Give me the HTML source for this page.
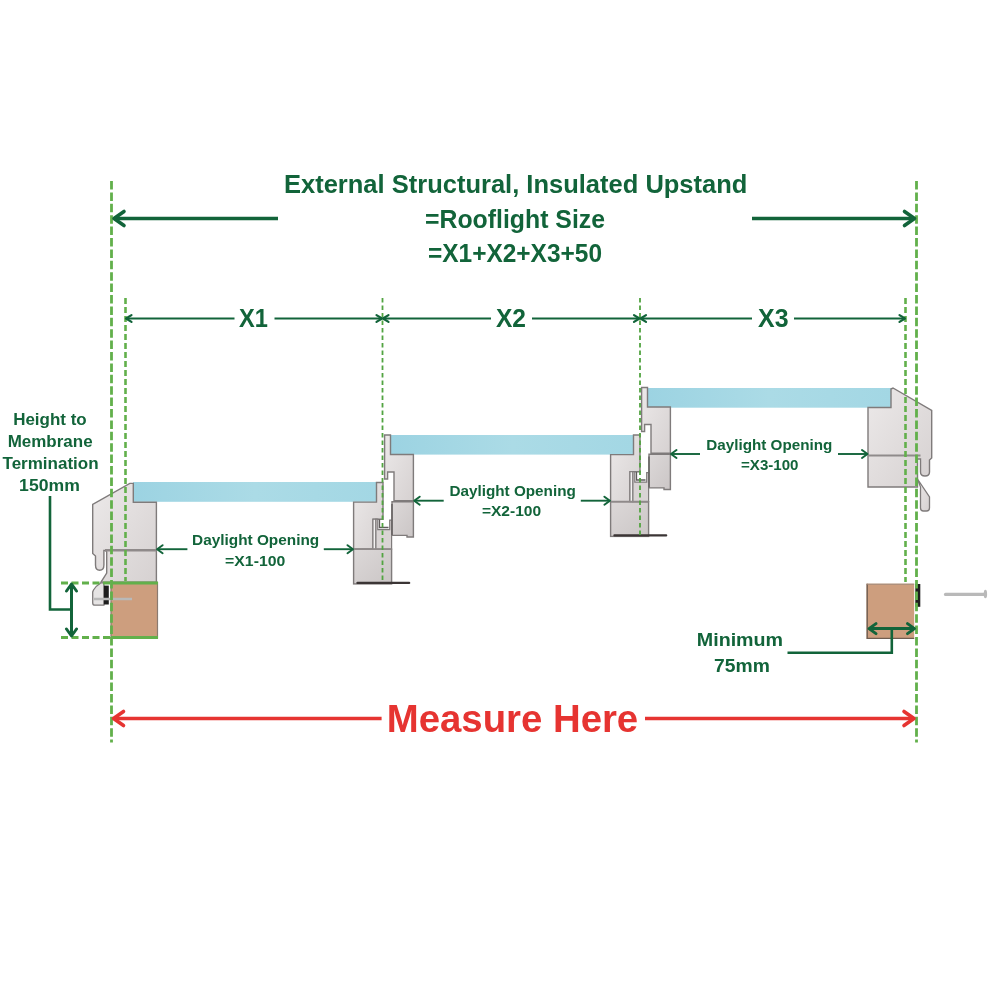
<!DOCTYPE html>
<html><head><meta charset="utf-8"><style>
html,body{margin:0;padding:0;background:#fff;width:1000px;height:1000px;overflow:hidden;}
svg{display:block;font-family:"Liberation Sans",sans-serif;will-change:transform;}
</style></head><body>
<svg width="1000" height="1000" viewBox="0 0 1000 1000" font-family="Liberation Sans, sans-serif" font-weight="bold">
<defs>
<linearGradient id="glass" x1="0" y1="0" x2="1" y2="0">
<stop offset="0" stop-color="#9cd3e2"/><stop offset="0.5" stop-color="#abdbe6"/><stop offset="1" stop-color="#a3d7e4"/>
</linearGradient>
<linearGradient id="frame" x1="0" y1="0" x2="1" y2="1">
<stop offset="0" stop-color="#ece9e9"/><stop offset="1" stop-color="#d6d1d1"/>
</linearGradient>
<linearGradient id="frame2" x1="0" y1="0" x2="1" y2="1">
<stop offset="0" stop-color="#dcd8d8"/><stop offset="1" stop-color="#cbc6c6"/>
</linearGradient>
</defs>
<rect x="133" y="482" width="243.8" height="19.8" fill="url(#glass)"/>
<rect x="390.5" y="435" width="243.8" height="19.6" fill="url(#glass)"/>
<rect x="647.7" y="388" width="243.5" height="19.7" fill="url(#glass)"/>
<path d="M129.8,483.4 L133.3,483.4 L133.3,502.3 L156.4,502.3 L156.4,582.1 L101,582.1 L106.7,573 L106.7,552 Q106.7,550.5 105,550.5 L103.9,550.5 L103.9,565 Q103.9,570.2 99.7,570.2 Q95.5,570.2 95.5,565 L95.5,556 L92.7,553.4 L92.7,504.4 Z" fill="url(#frame)" stroke="#7f7b7b" stroke-width="1.4"/>
<line x1="105" y1="550.2" x2="156.4" y2="550.2" stroke="#8f8a8a" stroke-width="2.4"/>
<path d="M101,582.8 Q96,586 93.5,590 L92.7,592 L92.7,603 Q92.7,605.2 95,605.2 L103.9,605.2 L103.9,582.8 Z" fill="#e6e4e4" stroke="#7f7b7b" stroke-width="1.3"/>
<rect x="103.9" y="585.6" width="4.9" height="18.9" fill="#1e1e1e"/>
<rect x="111" y="582.5" width="46.5" height="55.5" fill="#cd9e7e" stroke="#8a7a70" stroke-width="1.2"/>
<line x1="94" y1="599" x2="132" y2="599" stroke="#b9b9b9" stroke-width="2.6"/>
<g transform="translate(0,0)">
<path d="M353.6,502.1 L376.5,502.1 L376.5,482.5 L383,482.5 L383,519.2 L373,519.2 L373,549.2 L353.6,549.2 Z" fill="url(#frame)" stroke="#7f7b7b" stroke-width="1.4"/>
<rect x="353.6" y="549.2" width="38" height="34.7" fill="url(#frame2)" stroke="#7f7b7b" stroke-width="1.4"/>
<rect x="373" y="519.2" width="2.9" height="30" fill="#f4f2f2" stroke="#7f7b7b" stroke-width="1.1"/>
<path d="M375.9,519.2 L377.8,519.2 L377.8,529.7 L389.7,529.7 L389.7,520.2 L391.6,520.2 L391.6,549.2 L375.9,549.2 Z" fill="#d9d4d4" stroke="#7f7b7b" stroke-width="1.2"/>
<path d="M379.5,519.5 L379.5,527.5 L388.5,527.5" fill="none" stroke="#5f5b5b" stroke-width="1.3"/>
<line x1="353.6" y1="549.2" x2="391.6" y2="549.2" stroke="#8f8a8a" stroke-width="1.8"/>
<path d="M384.6,435 L390.5,435 L390.5,454.5 L413.4,454.5 L413.4,500.8 L394,500.8 L394,472 L387.6,472 L387.6,479 L384.6,479 Z" fill="url(#frame)" stroke="#7f7b7b" stroke-width="1.4"/>
<path d="M392,501.8 L413.4,501.8 L413.4,537 L407,537 L407,535.4 L392,535.4 Z" fill="url(#frame2)" stroke="#7f7b7b" stroke-width="1.4"/>
<line x1="392" y1="504" x2="392" y2="535" stroke="#6a6666" stroke-width="1.6"/>
<line x1="357.4" y1="582.9" x2="409.2" y2="582.9" stroke="#3b3535" stroke-width="2.2" stroke-linecap="round"/>
</g>
<g transform="translate(257,-47.5)">
<path d="M353.6,502.1 L376.5,502.1 L376.5,482.5 L383,482.5 L383,519.2 L373,519.2 L373,549.2 L353.6,549.2 Z" fill="url(#frame)" stroke="#7f7b7b" stroke-width="1.4"/>
<rect x="353.6" y="549.2" width="38" height="34.7" fill="url(#frame2)" stroke="#7f7b7b" stroke-width="1.4"/>
<rect x="373" y="519.2" width="2.9" height="30" fill="#f4f2f2" stroke="#7f7b7b" stroke-width="1.1"/>
<path d="M375.9,519.2 L377.8,519.2 L377.8,529.7 L389.7,529.7 L389.7,520.2 L391.6,520.2 L391.6,549.2 L375.9,549.2 Z" fill="#d9d4d4" stroke="#7f7b7b" stroke-width="1.2"/>
<path d="M379.5,519.5 L379.5,527.5 L388.5,527.5" fill="none" stroke="#5f5b5b" stroke-width="1.3"/>
<line x1="353.6" y1="549.2" x2="391.6" y2="549.2" stroke="#8f8a8a" stroke-width="1.8"/>
<path d="M384.6,435 L390.5,435 L390.5,454.5 L413.4,454.5 L413.4,500.8 L394,500.8 L394,472 L387.6,472 L387.6,479 L384.6,479 Z" fill="url(#frame)" stroke="#7f7b7b" stroke-width="1.4"/>
<path d="M392,501.8 L413.4,501.8 L413.4,537 L407,537 L407,535.4 L392,535.4 Z" fill="url(#frame2)" stroke="#7f7b7b" stroke-width="1.4"/>
<line x1="392" y1="504" x2="392" y2="535" stroke="#6a6666" stroke-width="1.6"/>
<line x1="357.4" y1="582.9" x2="409.2" y2="582.9" stroke="#3b3535" stroke-width="2.2" stroke-linecap="round"/>
</g>
<path d="M891,389 L893,388 L931.7,410.5 L931.7,458 L929.5,460 L929.5,472 Q929.5,476 925,476 Q920.5,476 920.5,472 L920.5,459 L917.5,459 L917.5,487 L868,487 L868,407.5 L891,407.5 Z" fill="url(#frame)" stroke="#7f7b7b" stroke-width="1.4"/>
<line x1="868" y1="455.5" x2="920.5" y2="455.5" stroke="#8f8b8b" stroke-width="2"/>
<path d="M917.5,479 L929.5,497 L929.5,508 Q929.5,511 926.5,511 L923.5,511 Q920.5,511 920.5,508 L920.5,487 Z" fill="url(#frame)" stroke="#7f7b7b" stroke-width="1.3"/>
<rect x="866.6" y="583.7" width="47.6" height="55.3" fill="#cd9e7e"/>
<polyline points="867.2,583.7 867.2,638.4 914.2,638.4" fill="none" stroke="#6f5d50" stroke-width="1.4"/>
<line x1="866.6" y1="584.2" x2="914.2" y2="584.2" stroke="#a08a7c" stroke-width="1"/>
<rect x="915.3" y="584" width="5" height="22.8" fill="#1e1e1e"/>
<line x1="945.5" y1="594.4" x2="985" y2="594.4" stroke="#b9b9b9" stroke-width="3.2" stroke-linecap="round"/>
<ellipse cx="985.4" cy="594" rx="1.7" ry="4.3" fill="#b9b9b9"/>
<line x1="111.5" y1="181" x2="111.5" y2="742.5" stroke="#62b04b" stroke-width="2.8" stroke-dasharray="8.5 2.9"/>
<line x1="916.5" y1="181" x2="916.5" y2="742.5" stroke="#62b04b" stroke-width="2.8" stroke-dasharray="8.5 2.9"/>
<line x1="125.5" y1="298" x2="125.5" y2="581" stroke="#62b04b" stroke-width="2.6" stroke-dasharray="6 3"/>
<line x1="905.5" y1="298" x2="905.5" y2="582" stroke="#62b04b" stroke-width="2.6" stroke-dasharray="6 3"/>
<line x1="382.5" y1="298" x2="382.5" y2="583" stroke="#52a441" stroke-width="1.8" stroke-dasharray="4.5 3"/>
<line x1="640" y1="298" x2="640" y2="537" stroke="#52a441" stroke-width="1.8" stroke-dasharray="4.5 3"/>
<line x1="61" y1="583" x2="111" y2="583" stroke="#62b04b" stroke-width="3" stroke-dasharray="7 3.5"/>
<line x1="61" y1="637.5" x2="111" y2="637.5" stroke="#62b04b" stroke-width="3" stroke-dasharray="7 3.5"/>
<line x1="111" y1="583" x2="158" y2="583" stroke="#62b04b" stroke-width="3"/>
<line x1="111" y1="637.5" x2="158" y2="637.5" stroke="#62b04b" stroke-width="3"/>
<line x1="114" y1="218.5" x2="278" y2="218.5" stroke="#12643a" stroke-width="3.4"/>
<polyline points="124.0,211.5 114.0,218.5 124.0,225.5" fill="none" stroke="#12643a" stroke-width="3.6" stroke-linecap="round" stroke-linejoin="round"/>
<line x1="752" y1="218.5" x2="914" y2="218.5" stroke="#12643a" stroke-width="3.4"/>
<polyline points="904.5,225.5 914.5,218.5 904.5,211.5" fill="none" stroke="#12643a" stroke-width="3.6" stroke-linecap="round" stroke-linejoin="round"/>
<line x1="126.5" y1="318.5" x2="234.5" y2="318.5" stroke="#12643a" stroke-width="2.2"/>
<line x1="274.5" y1="318.5" x2="381.5" y2="318.5" stroke="#12643a" stroke-width="2.2"/>
<polyline points="131.5,315.1 126.0,318.5 131.5,321.9" fill="none" stroke="#12643a" stroke-width="2.2" stroke-linecap="round" stroke-linejoin="round"/>
<polyline points="376.5,321.9 382.0,318.5 376.5,315.1" fill="none" stroke="#12643a" stroke-width="2.2" stroke-linecap="round" stroke-linejoin="round"/>
<line x1="383.5" y1="318.5" x2="491" y2="318.5" stroke="#12643a" stroke-width="2.2"/>
<line x1="532" y1="318.5" x2="639" y2="318.5" stroke="#12643a" stroke-width="2.2"/>
<polyline points="388.5,315.1 383.0,318.5 388.5,321.9" fill="none" stroke="#12643a" stroke-width="2.2" stroke-linecap="round" stroke-linejoin="round"/>
<polyline points="634.0,321.9 639.5,318.5 634.0,315.1" fill="none" stroke="#12643a" stroke-width="2.2" stroke-linecap="round" stroke-linejoin="round"/>
<line x1="641" y1="318.5" x2="752" y2="318.5" stroke="#12643a" stroke-width="2.2"/>
<line x1="794" y1="318.5" x2="904.5" y2="318.5" stroke="#12643a" stroke-width="2.2"/>
<polyline points="646.0,315.1 640.5,318.5 646.0,321.9" fill="none" stroke="#12643a" stroke-width="2.2" stroke-linecap="round" stroke-linejoin="round"/>
<polyline points="899.5,321.9 905.0,318.5 899.5,315.1" fill="none" stroke="#12643a" stroke-width="2.2" stroke-linecap="round" stroke-linejoin="round"/>
<line x1="157.6" y1="549.2" x2="187.4" y2="549.2" stroke="#12643a" stroke-width="1.9"/>
<line x1="323.8" y1="549.2" x2="352.5" y2="549.2" stroke="#12643a" stroke-width="1.9"/>
<polyline points="162.6,545.2 157.1,549.2 162.6,553.2" fill="none" stroke="#12643a" stroke-width="2.0" stroke-linecap="round" stroke-linejoin="round"/>
<polyline points="347.5,553.2 353.0,549.2 347.5,545.2" fill="none" stroke="#12643a" stroke-width="2.0" stroke-linecap="round" stroke-linejoin="round"/>
<line x1="414.7" y1="500.7" x2="443.7" y2="500.7" stroke="#12643a" stroke-width="1.9"/>
<line x1="580.8" y1="500.7" x2="609.4" y2="500.7" stroke="#12643a" stroke-width="1.9"/>
<polyline points="419.7,496.7 414.2,500.7 419.7,504.7" fill="none" stroke="#12643a" stroke-width="2.0" stroke-linecap="round" stroke-linejoin="round"/>
<polyline points="604.4,504.7 609.9,500.7 604.4,496.7" fill="none" stroke="#12643a" stroke-width="2.0" stroke-linecap="round" stroke-linejoin="round"/>
<line x1="671.5" y1="454" x2="700" y2="454" stroke="#12643a" stroke-width="1.9"/>
<line x1="838" y1="454" x2="867" y2="454" stroke="#12643a" stroke-width="1.9"/>
<polyline points="676.5,450.0 671.0,454.0 676.5,458.0" fill="none" stroke="#12643a" stroke-width="2.0" stroke-linecap="round" stroke-linejoin="round"/>
<polyline points="862.0,458.0 867.5,454.0 862.0,450.0" fill="none" stroke="#12643a" stroke-width="2.0" stroke-linecap="round" stroke-linejoin="round"/>
<line x1="71.5" y1="584.5" x2="71.5" y2="635.5" stroke="#12643a" stroke-width="3"/>
<polyline points="76.5,591.0 71.5,584.0 66.5,591.0" fill="none" stroke="#12643a" stroke-width="3" stroke-linecap="round" stroke-linejoin="round"/>
<polyline points="66.5,629.0 71.5,636.0 76.5,629.0" fill="none" stroke="#12643a" stroke-width="3" stroke-linecap="round" stroke-linejoin="round"/>
<polyline points="50,496 50,609.5 71.5,609.5" fill="none" stroke="#12643a" stroke-width="2.6"/>
<line x1="869.5" y1="628.6" x2="914" y2="628.6" stroke="#12643a" stroke-width="3"/>
<polyline points="876.0,623.6 869.0,628.6 876.0,633.6" fill="none" stroke="#12643a" stroke-width="3" stroke-linecap="round" stroke-linejoin="round"/>
<polyline points="907.5,633.6 914.5,628.6 907.5,623.6" fill="none" stroke="#12643a" stroke-width="3" stroke-linecap="round" stroke-linejoin="round"/>
<polyline points="891.8,628.6 891.8,652.8 787.5,652.8" fill="none" stroke="#12643a" stroke-width="2.6"/>
<line x1="114" y1="718.5" x2="381.6" y2="718.5" stroke="#e63431" stroke-width="3.4"/>
<polyline points="123.5,711.5 113.5,718.5 123.5,725.5" fill="none" stroke="#e63431" stroke-width="3.6" stroke-linecap="round" stroke-linejoin="round"/>
<line x1="645" y1="718.5" x2="913" y2="718.5" stroke="#e63431" stroke-width="3.4"/>
<polyline points="904.0,725.5 914.0,718.5 904.0,711.5" fill="none" stroke="#e63431" stroke-width="3.6" stroke-linecap="round" stroke-linejoin="round"/>
<text id="t1" x="284.00" y="193.20" font-size="25.15" fill="#12643a" textLength="463.40" lengthAdjust="spacingAndGlyphs">External Structural, Insulated Upstand</text>
<text id="t2" x="425.00" y="227.60" font-size="24.86" fill="#12643a" textLength="180.00" lengthAdjust="spacingAndGlyphs">=Rooflight Size</text>
<text id="t3" x="428.00" y="261.50" font-size="24.86" fill="#12643a" textLength="174.00" lengthAdjust="spacingAndGlyphs">=X1+X2+X3+50</text>
<text id="x1" x="239.10" y="326.80" font-size="25.58" fill="#12643a" textLength="28.90" lengthAdjust="spacingAndGlyphs">X1</text>
<text id="x2" x="496.00" y="326.80" font-size="25.58" fill="#12643a" textLength="30.00" lengthAdjust="spacingAndGlyphs">X2</text>
<text id="x3" x="758.00" y="326.80" font-size="25.58" fill="#12643a" textLength="30.50" lengthAdjust="spacingAndGlyphs">X3</text>
<text id="h1" x="13.20" y="424.80" font-size="16.57" fill="#12643a" textLength="73.50" lengthAdjust="spacingAndGlyphs">Height to</text>
<text id="h2" x="7.70" y="446.70" font-size="15.84" fill="#12643a" textLength="84.90" lengthAdjust="spacingAndGlyphs">Membrane</text>
<text id="h3" x="2.50" y="469.10" font-size="16.13" fill="#12643a" textLength="96.10" lengthAdjust="spacingAndGlyphs">Termination</text>
<text id="h4" x="19.10" y="491.20" font-size="15.84" fill="#12643a" textLength="60.70" lengthAdjust="spacingAndGlyphs">150mm</text>
<text id="d1a" x="192.10" y="544.80" font-size="14.54" fill="#12643a" textLength="127.10" lengthAdjust="spacingAndGlyphs">Daylight Opening</text>
<text id="d1b" x="225.10" y="565.50" font-size="14.83" fill="#12643a" textLength="60.20" lengthAdjust="spacingAndGlyphs">=X1-100</text>
<text id="d2a" x="449.50" y="495.80" font-size="14.83" fill="#12643a" textLength="126.30" lengthAdjust="spacingAndGlyphs">Daylight Opening</text>
<text id="d2b" x="481.90" y="516.40" font-size="14.83" fill="#12643a" textLength="59.30" lengthAdjust="spacingAndGlyphs">=X2-100</text>
<text id="d3a" x="706.30" y="449.90" font-size="14.83" fill="#12643a" textLength="126.00" lengthAdjust="spacingAndGlyphs">Daylight Opening</text>
<text id="d3b" x="741.00" y="470.00" font-size="14.54" fill="#12643a" textLength="57.50" lengthAdjust="spacingAndGlyphs">=X3-100</text>
<text id="m1" x="696.80" y="645.75" font-size="18.60" fill="#12643a" textLength="86.30" lengthAdjust="spacingAndGlyphs">Minimum</text>
<text id="m2" x="714.00" y="671.75" font-size="18.90" fill="#12643a" textLength="55.80" lengthAdjust="spacingAndGlyphs">75mm</text>
<text id="mh" x="386.80" y="732.20" font-size="38.08" fill="#e63431" textLength="251.40" lengthAdjust="spacingAndGlyphs">Measure Here</text>
</svg>
</body></html>
